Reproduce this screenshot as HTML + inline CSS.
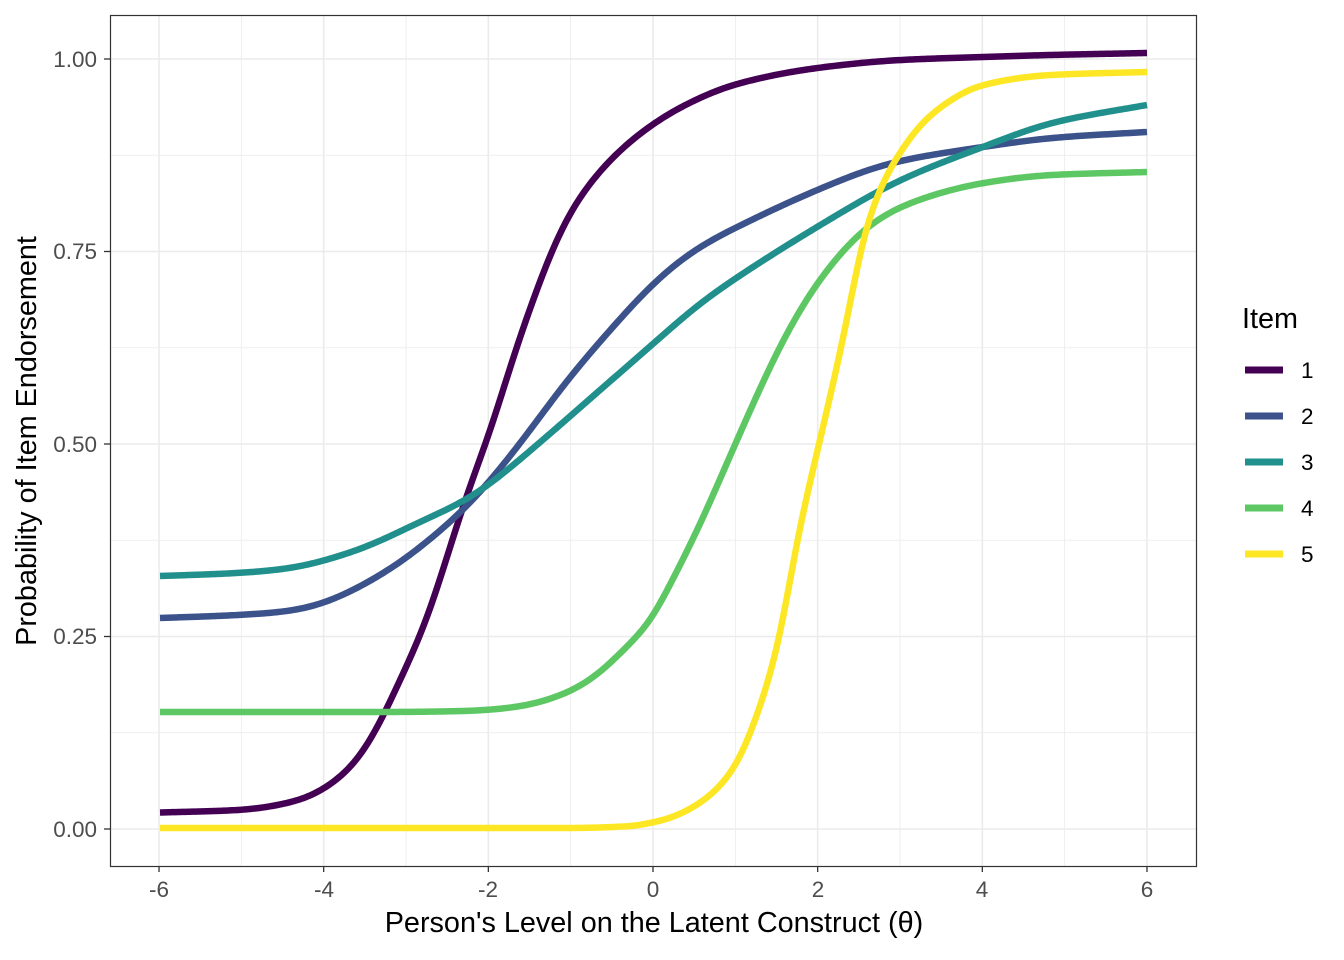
<!DOCTYPE html>
<html><head><meta charset="utf-8"><style>
body{margin:0;background:#fff;}
svg{display:block;font-family:"Liberation Sans",Arial,sans-serif;}
</style></head><body>
<svg id="s" width="1344" height="960" xmlns="http://www.w3.org/2000/svg">
<rect x="0" y="0" width="1344" height="960" fill="#fff"/>
<g id="grid"></g>
<g id="curves" fill="none" stroke-width="6.5" stroke-linecap="butt" stroke-linejoin="round"></g>
<rect x="110.5" y="15.5" width="1086" height="851" fill="none" stroke="#333" stroke-width="1.2"/>
<g id="ticks" stroke="#333" stroke-width="1.3"></g>
<g font-size="22.5" fill="#4d4d4d" text-anchor="end">
<text x="97" y="67">1.00</text><text x="97" y="259">0.75</text><text x="97" y="452">0.50</text><text x="97" y="644">0.25</text><text x="97" y="837">0.00</text>
</g>
<g font-size="22.5" fill="#4d4d4d" text-anchor="middle">
<text x="159" y="897">-6</text><text x="324" y="897">-4</text><text x="488" y="897">-2</text><text x="653" y="897">0</text><text x="818" y="897">2</text><text x="982" y="897">4</text><text x="1147" y="897">6</text>
</g>
<text x="654" y="932" font-size="28.8" text-anchor="middle" fill="#000">Person's Level on the Latent Construct (θ)</text>
<text transform="translate(36,441) rotate(-90)" font-size="28.8" text-anchor="middle" fill="#000">Probability of Item Endorsement</text>
<text x="1242" y="328" font-size="28.8" fill="#000">Item</text>
<g stroke-width="7">
<line x1="1245" y1="370" x2="1283" y2="370" stroke="#440154"/>
<line x1="1245" y1="416" x2="1283" y2="416" stroke="#3B528B"/>
<line x1="1245" y1="462" x2="1283" y2="462" stroke="#21908C"/>
<line x1="1245" y1="508" x2="1283" y2="508" stroke="#5DC863"/>
<line x1="1245" y1="554" x2="1283" y2="554" stroke="#FDE725"/>
</g>
<g font-size="22.5" fill="#000">
<text x="1301" y="378">1</text><text x="1301" y="424">2</text><text x="1301" y="470">3</text><text x="1301" y="516">4</text><text x="1301" y="562">5</text>
</g>
</svg>
<script>
var NS="http://www.w3.org/2000/svg";
function el(p,t,a){var e=document.createElementNS(NS,t);for(var k in a)e.setAttribute(k,a[k]);p.appendChild(e);return e;}
var g=document.getElementById("grid"),tk=document.getElementById("ticks");
for(var k=-6;k<=6;k++){var x=653+82.33*k;el(g,"line",{x1:x,x2:x,y1:15,y2:866,stroke:"#ebebeb","stroke-width":k%2==0?1.6:0.8});}
for(var i=0;i<=8;i++){var y=829-770*i/8;el(g,"line",{x1:110,x2:1196,y1:y,y2:y,stroke:"#ebebeb","stroke-width":i%2==0?1.6:0.8});}
for(var k=-6;k<=6;k+=2){var x=653+82.33*k;el(tk,"line",{x1:x,x2:x,y1:866,y2:872});}
for(var i=0;i<=4;i++){var y=829-770*i/4;el(tk,"line",{x1:104,x2:110,y1:y,y2:y});}
var data=[
["#440154",[[160,812.5],[240,810],[300,800],[333,783],[360,757],[383,717],[400,680],[427,620],[447,557],[467,493],[490,433],[513,357],[533,300],[553,247],[573,207],[613,157],[653,124],[683,106],[733,85],[817,68],[900,60],[983,57],[1050,55],[1147,53]],12],
["#3B528B",[[160,618],[240,615],[300,610],[333,600],[367,583],[400,563],[433,537],[467,507],[523,440],[567,380],[613,327],[653,283],[700,246],[733,229],[817,190],[890,163],[983,147],[1050,138],[1147,132]],20],
["#21908C",[[160,576],[240,573],[300,567],[333,558],[367,547],[417,523],[467,500],[545,438],[600,390],[653,344],[700,303],[733,280],[817,227],[900,180],[983,147],[1050,123],[1147,105]],20],
["#5DC863",[[160,712],[383,712],[467,711],[517,707],[567,693],[600,673],[633,640],[650,625],[667,590],[693,540],[737,440],[783,340],[817,283],[867,227],[900,207],[983,183],[1050,175],[1147,172]],14],
["#FDE725",[[160,828],[567,828],[633,826],[650,823],[667,819],[700,803],[733,770],[760,707],[780,637],[797,540],[820,440],[843,340],[867,223],[897,157],[933,113],[983,85],[1050,75],[1147,72]],8]
];
function interp(p){var n=p.length,d=[],m=[];
for(var i=0;i<n-1;i++)d.push((p[i+1][1]-p[i][1])/(p[i+1][0]-p[i][0]));
m[0]=d[0];m[n-1]=d[n-2];
for(var i=1;i<n-1;i++){if(d[i-1]*d[i]<=0)m[i]=0;else{var h0=p[i][0]-p[i-1][0],h1=p[i+1][0]-p[i][0];var w1=2*h1+h0,w2=h1+2*h0;m[i]=(w1+w2)/(w1/d[i-1]+w2/d[i]);}}
var out=[],j=0;
for(var x=p[0][0];x<=p[n-1][0];x+=1){while(j<n-2&&x>p[j+1][0])j++;
var h=p[j+1][0]-p[j][0],t=(x-p[j][0])/h,t2=t*t,t3=t2*t;
var y=(2*t3-3*t2+1)*p[j][1]+(t3-2*t2+t)*h*m[j]+(-2*t3+3*t2)*p[j+1][1]+(t3-t2)*h*m[j+1];
out.push([x,y]);}
return out;}
function smooth(a,sig){var n=a.length,r=[],R=Math.ceil(sig*3);
for(var i=0;i<n;i++){var s=0,w=0;for(var k=-R;k<=R;k++){var idx=i+k,yy;
if(idx<0)yy=2*a[0][1]-a[-idx][1];else if(idx>=n)yy=2*a[n-1][1]-a[2*(n-1)-idx][1];else yy=a[idx][1];
var ww=Math.exp(-k*k/(2*sig*sig));s+=ww*yy;w+=ww;}
r.push([a[i][0],s/w]);}return r;}
var cg=document.getElementById("curves");
data.forEach(function(d){var a=smooth(interp(d[1]),d[2]);var s="M";
for(var i=0;i<a.length;i+=2)s+=(i?" L":"")+a[i][0]+","+a[i][1].toFixed(2);
s+=" L"+a[a.length-1][0]+","+a[a.length-1][1].toFixed(2);
el(cg,"path",{d:s,stroke:d[0]});});
</script>
</body></html>
